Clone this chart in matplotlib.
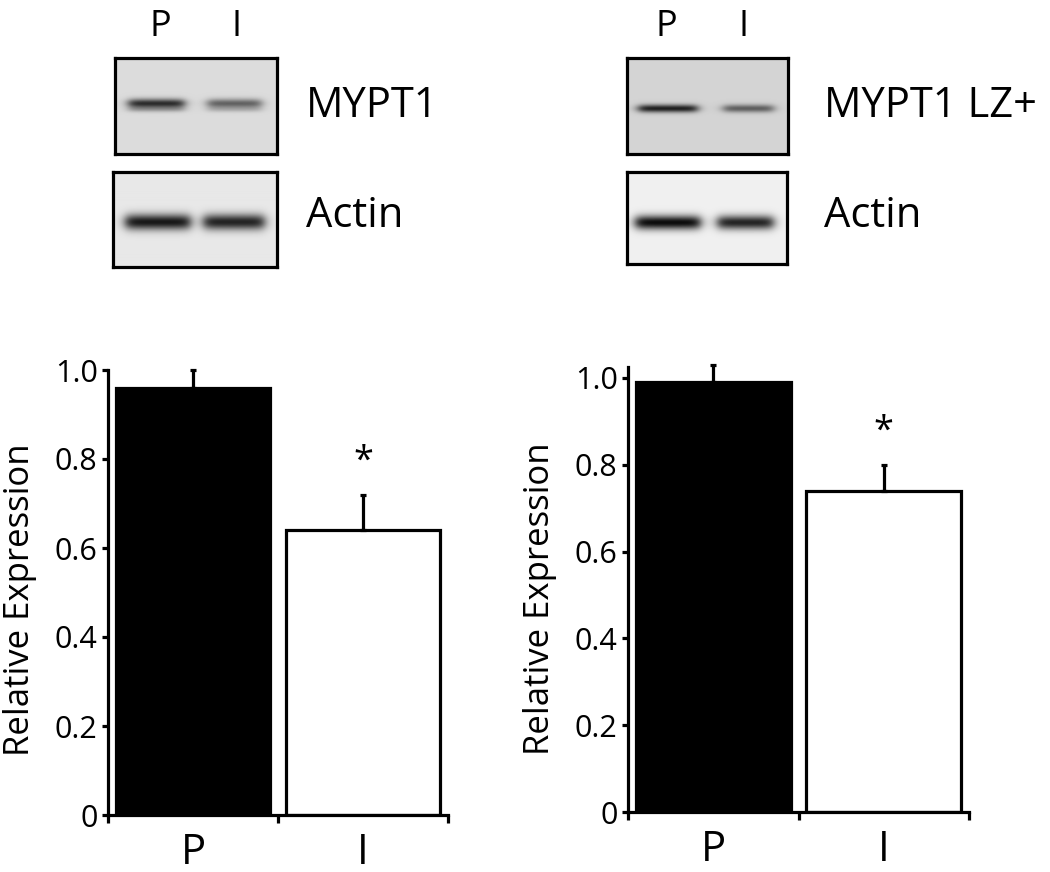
import numpy as np
import matplotlib
matplotlib.use("Agg")
import matplotlib.pyplot as plt

plt.rcParams['font.family'] = ['Open Sans', 'DejaVu Sans']

# ---------------- data ----------------
groups = ["P", "I"]
mypt1_mean = [0.96, 0.64]
mypt1_err = [0.04, 0.08]
lz_mean = [0.99, 0.74]
lz_err = [0.04, 0.06]
yticks = [0, 0.2, 0.4, 0.6, 0.8, 1.0]
ytick_labels = ["0", "0.2", "0.4", "0.6", "0.8", "1.0"]
bar_colors = ["black", "white"]
significance = ["", "*"]

# blot appearance (band relative darkness per lane P, I)
blot_left_top = [0.80, 0.55]
blot_left_actin = [0.90, 0.85]
blot_right_top = [0.85, 0.55]
blot_right_actin = [0.95, 0.85]

W, H = 1050, 872
fig = plt.figure(figsize=(W / 100, H / 100), dpi=100)


def box(x0, y0, x1, y1):
    return [x0 / W, 1 - y1 / H, (x1 - x0) / W, (y1 - y0) / H]


def blot(rect, bg, lanes, strengths, ycen, thick, second=None):
    x0, y0, x1, y1 = rect
    w, h = int(x1 - x0), int(y1 - y0)
    ax = fig.add_axes(box(*rect))
    img = np.full((h, w), bg, dtype=float)
    yy = np.arange(h)[:, None]
    xx = np.arange(w)[None, :]
    for (lx0, lx1), s in zip(lanes, strengths):
        a, b = lx0 - x0, lx1 - x0
        xprof = 1 / (1 + np.exp(-(xx - a) / 3.0)) * 1 / (1 + np.exp((xx - b) / 3.0))
        yprof = np.exp(-0.5 * ((yy - (ycen - y0)) / thick) ** 2)
        img = img - s * bg * xprof * yprof
        if second is not None:
            yprof2 = np.exp(-0.5 * ((yy - (ycen - y0 + second)) / (thick * 0.6)) ** 2)
            img = img - 0.25 * s * bg * xprof * yprof2
    img = np.clip(img, 0, 1)
    ax.imshow(img, cmap="gray", vmin=0, vmax=1, aspect="auto", interpolation="bilinear")
    ax.set_xticks([])
    ax.set_yticks([])
    for sp in ax.spines.values():
        sp.set_linewidth(2.3)
        sp.set_color("black")
    return ax


# left blots
blot((115, 58, 277, 154), 0.86, [(128, 184), (207, 261)], blot_left_top, 103, 3.3, second=6)
blot((113, 172, 277, 267), 0.91, [(125, 190), (203, 264)], blot_left_actin, 222, 5.5)
# right blots
blot((627, 58, 788, 154), 0.83, [(638, 697), (723, 773)], blot_right_top, 108, 2.8)
blot((627, 172, 787, 264), 0.94, [(635, 700), (717, 773)], blot_right_actin, 222, 5.0)

# blot labels
for x, s in [(160, "P"), (237, "I"), (666, "P"), (744, "I")]:
    fig.text(x / W, 1 - 27 / H, s, fontsize=26, ha="center", va="center")
fig.text(306 / W, 1 - 106 / H, "MYPT1", fontsize=30, ha="left", va="center")
fig.text(306 / W, 1 - 216 / H, "Actin", fontsize=30, ha="left", va="center")
fig.text(824 / W, 1 - 106 / H, "MYPT1 LZ+", fontsize=30, ha="left", va="center")
fig.text(824 / W, 1 - 216 / H, "Actin", fontsize=30, ha="left", va="center")


def barchart(rect, means, errs, ytop, ylab_x, ylab_y):
    ax = fig.add_axes(box(*rect))
    xpos = np.arange(len(means)) + 0.5
    ax.bar(xpos, means, width=0.91, color=bar_colors, edgecolor="black", linewidth=2.3, zorder=2)
    ax.errorbar(xpos, means, yerr=[[0] * len(errs), errs], fmt="none", ecolor="black",
                elinewidth=2.3, capsize=2.5, capthick=2.3, clip_on=False, zorder=3)
    for x, m, e, s in zip(xpos, means, errs, significance):
        if s:
            ax.text(x, m + e + 0.075, s, fontsize=26, ha="center", va="center")
    ax.set_xlim(0, len(means))
    ax.set_ylim(0, ytop)
    ax.spines["top"].set_visible(False)
    ax.spines["right"].set_visible(False)
    for side in ("left", "bottom"):
        ax.spines[side].set_linewidth(2.3)
    ax.spines["left"].set_bounds(0, ytop)
    ax.set_yticks(yticks)
    ax.set_yticklabels(ytick_labels, fontsize=22)
    ax.tick_params(axis="y", direction="out", length=4.5, width=2.3, pad=3)
    ax.set_xticks([0, 1, 2])
    ax.set_xticklabels([])
    ax.tick_params(axis="x", which="major", direction="out", length=6, width=2.3)
    ax.set_xticks(xpos, minor=True)
    ax.set_xticklabels(groups, minor=True, fontsize=30)
    ax.tick_params(axis="x", which="minor", length=0, pad=12)
    ax.set_ylabel("Relative Expression", fontsize=25)
    ax.yaxis.set_label_coords((ylab_x - rect[0]) / (rect[2] - rect[0]),
                              (rect[3] - ylab_y) / (rect[3] - rect[1]))
    ax.patch.set_alpha(0)
    return ax


barchart((108, 370, 448, 815), mypt1_mean, mypt1_err, 1.0, 37, 600)
barchart((628, 367, 969, 812), lz_mean, lz_err, 1.025, 557, 599)

fig.savefig("out.png", dpi=100)
